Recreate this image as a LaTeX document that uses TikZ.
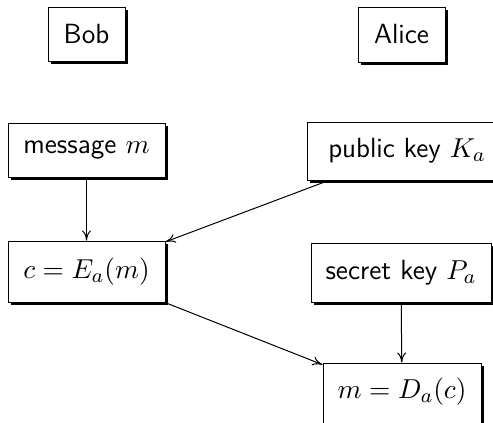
\documentclass[tikz,border=0pt]{standalone}
\usetikzlibrary{shadows,arrows.meta}
\begin{document}
\begin{tikzpicture}[x=0.4pt,y=-0.4pt,
  box/.style={draw,line width=0.4pt,fill=white,inner sep=0pt,
    font=\sffamily\fontsize{11.1}{13.5}\selectfont,
    drop shadow={shadow xshift=1pt,shadow yshift=-1pt,fill=black,opacity=1}},
  flow/.style={line width=0.4pt,-{To[length=4pt,width=3.6pt]}}]
  \useasboundingbox (0,0) rectangle (493,422);
  \clip (0,0) rectangle (493,422);
  % parties
  \node[box,minimum width=77*0.4pt,minimum height=54*0.4pt] (bob) at (86.5,34) {Bob};
  \node[box,minimum width=87*0.4pt,minimum height=55*0.4pt] (alice) at (401.5,34.5) {Alice};
  % Bob's side
  \node[box,minimum width=157*0.4pt,minimum height=54*0.4pt] (msg) at (86.5,150) {message $m$};
  \node[box,minimum width=157*0.4pt,minimum height=61*0.4pt] (enc) at (86.5,271.5) {$c=E_a(m)$};
  % Alice's side
  \node[box,minimum width=200*0.4pt,minimum height=58*0.4pt] (pub) at (407,151) {public key $K_a$};
  \node[box,minimum width=180*0.4pt,minimum height=59*0.4pt] (sec) at (401,272.5) {secret key $P_a$};
  \node[box,minimum width=158*0.4pt,minimum height=66*0.4pt,text depth=6pt] (dec) at (402,396) {$m=D_a(c)$};
  % connectors
  \draw[flow] (msg) -- (enc);
  \draw[flow] (pub) -- (enc);
  \draw[flow] (enc) -- (dec);
  \draw[flow] (sec) -- (dec);
\end{tikzpicture}
\end{document}
